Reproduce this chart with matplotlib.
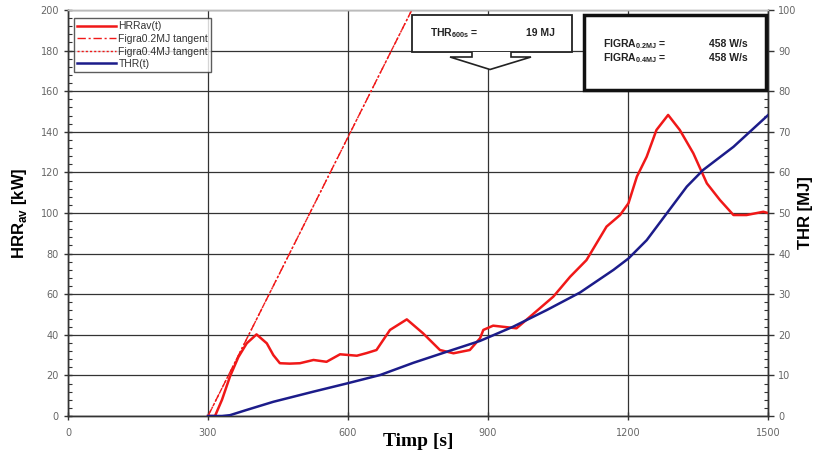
import matplotlib
matplotlib.use("Agg")
import matplotlib.pyplot as plt
from matplotlib.ticker import MultipleLocator
from matplotlib.patches import Polygon, Rectangle

# ---- data ----
hrr_t = [300, 315, 330, 347, 365, 383, 404, 426, 440, 454, 475, 497, 526, 554, 583, 619, 640, 661, 690,
         726, 761, 797, 826, 861, 883, 890, 911, 961, 990, 1040, 1076, 1111, 1154, 1183, 1201, 1219,
         1240, 1261, 1286, 1311, 1340, 1369, 1397, 1426, 1454, 1490, 1500]
hrr_v = [0, 0, 8, 19.4, 29, 35.8, 40.2, 35.8, 30, 26, 25.8, 26, 27.6, 26.7, 30.4, 29.7, 31, 32.5, 42.4,
         47.6, 40.7, 32.5, 30.9, 32.5, 38.3, 42.4, 44.5, 43.2, 48.9, 58.8, 68.6, 76.8, 93.3, 99, 104.8, 117.9,
         127.7, 140.9, 148.3, 140.9, 129.4, 114.6, 106.4, 99, 99, 100.6, 100]

thr_t = [300, 330, 347, 383, 440, 526, 597, 669, 740, 811, 883, 954, 1026, 1097, 1169, 1201, 1240,
         1283, 1326, 1361, 1426, 1500]
thr_v = [0, 0, 0.2, 1.5, 3.5, 6, 8, 10.1, 13.1, 15.8, 18.5, 22, 26.1, 30.4, 36, 38.8, 43.3,
         49.9, 56.5, 60.6, 66.3, 74.1]

tan02_t = [300, 736.7]
tan02_v = [0, 200]
tan04_t = [300, 736.7]
tan04_v = [0, 200]

thr600 = "19 MJ"
figra02 = "458 W/s"
figra04 = "458 W/s"

red = "#f01818"
blue = "#1c1c8a"
gray_txt = "#666666"

fig = plt.figure(figsize=(8.2, 4.58), dpi=100)
ax = fig.add_axes([68/820, 42/458, 700/820, 406/458])
ax2 = ax.twinx()

ax.set_xlim(0, 1500)
ax.set_ylim(0, 200)
ax2.set_ylim(0, 100)

ax.xaxis.set_major_locator(MultipleLocator(300))
ax.yaxis.set_major_locator(MultipleLocator(20))
ax.yaxis.set_minor_locator(MultipleLocator(4))
ax2.yaxis.set_major_locator(MultipleLocator(10))
ax2.yaxis.set_minor_locator(MultipleLocator(2))

ax.grid(True, which="major", color="#333333", lw=0.9)
ax.set_axisbelow(True)

for a in (ax, ax2):
    for s in a.spines.values():
        s.set_color("#333333")
        s.set_linewidth(1.0)
    a.spines["top"].set_color("#bbbbbb")

ax.tick_params(axis="both", which="major", direction="inout", length=6, width=1, colors="#333333",
               labelsize=7, labelcolor=gray_txt)
ax.tick_params(axis="y", which="minor", direction="in", length=3, width=0.8, colors="#333333")
ax.tick_params(axis="x", which="major", pad=6)
ax2.tick_params(axis="y", which="major", direction="out", length=4, width=1, colors="#333333",
                labelsize=7, labelcolor=gray_txt)
ax2.tick_params(axis="y", which="minor", direction="in", length=3, width=0.8, colors="#333333")

l4, = ax.plot(tan04_t, tan04_v, color=red, lw=1.0, ls=(0, (1.5, 1.5)), label="Figra0.4MJ tangent")
l2, = ax.plot(tan02_t, tan02_v, color=red, lw=1.0, ls=(0, (6, 2, 1.5, 2)), label="Figra0.2MJ tangent")
l1, = ax.plot(hrr_t, hrr_v, color=red, lw=1.8, label="HRRav(t)", zorder=4)
l3, = ax2.plot(thr_t, thr_v, color=blue, lw=1.8, label="THR(t)", zorder=3)

ax.set_xlabel("Timp [s]", family="Liberation Serif", fontsize=14, fontweight="bold", labelpad=-4)
ax.set_ylabel("HRR$_{\\mathregular{av}}$ [kW]", family="Liberation Sans", fontsize=12, fontweight="bold", labelpad=8)
ax2.set_ylabel("THR [MJ]", family="Liberation Sans", fontsize=12, fontweight="bold", rotation=90, labelpad=1)

leg = ax.legend(handles=[l1, l2, l4, l3], loc="upper left", bbox_to_anchor=(0.005, 0.985),
                fontsize=7.5, frameon=True, fancybox=False, edgecolor="#333333",
                handlelength=3.8, handletextpad=0.2, labelspacing=0.25, borderpad=0.3,
                borderaxespad=0.2, prop={"family": "Liberation Sans", "size": 7.5})
leg.get_frame().set_linewidth(1.0)
for t in leg.get_texts():
    t.set_color("#333333")

# THR600 box with arrow (figure pixel coordinates -> figure fraction)
def fx(px):
    return px / 820
def fy(py):
    return 1 - py / 458

box1 = Rectangle((fx(412), fy(52)), fx(572) - fx(412), fy(15) - fy(52), transform=fig.transFigure,
                 facecolor="white", edgecolor="#222222", lw=1.3, zorder=10)
fig.patches.append(box1)
arrow_px = [(472, 52), (472, 57), (450, 57), (490, 69.5), (531, 57), (511, 57), (511, 52)]
arrow = Polygon([(fx(x), fy(y)) for x, y in arrow_px], closed=False, transform=fig.transFigure,
                facecolor="white", edgecolor="#222222", lw=1.2, zorder=10)
fig.patches.append(arrow)
fig.text(fx(430), fy(33), "THR$_{\\mathregular{600s}}$ =", family="Liberation Sans", fontsize=7.5,
         fontweight="bold", va="center", ha="left", color="#222222", zorder=11)
fig.text(fx(555), fy(33), thr600, family="Liberation Sans", fontsize=7.5, fontweight="bold",
         va="center", ha="right", color="#222222", zorder=11)

box2 = Rectangle((fx(584), fy(90)), fx(766) - fx(584), fy(15) - fy(90), transform=fig.transFigure,
                 facecolor="white", edgecolor="#111111", lw=2.5, zorder=10)
fig.patches.append(box2)
fig.text(fx(603), fy(44), "FIGRA$_{\\mathregular{0.2MJ}}$ =", family="Liberation Sans", fontsize=7.5,
         fontweight="bold", va="center", ha="left", color="#222222", zorder=11)
fig.text(fx(748), fy(44), figra02, family="Liberation Sans", fontsize=7.5, fontweight="bold",
         va="center", ha="right", color="#222222", zorder=11)
fig.text(fx(603), fy(58), "FIGRA$_{\\mathregular{0.4MJ}}$ =", family="Liberation Sans", fontsize=7.5,
         fontweight="bold", va="center", ha="left", color="#222222", zorder=11)
fig.text(fx(748), fy(58), figra04, family="Liberation Sans", fontsize=7.5, fontweight="bold",
         va="center", ha="right", color="#222222", zorder=11)

fig.savefig("out.png", dpi=100)
